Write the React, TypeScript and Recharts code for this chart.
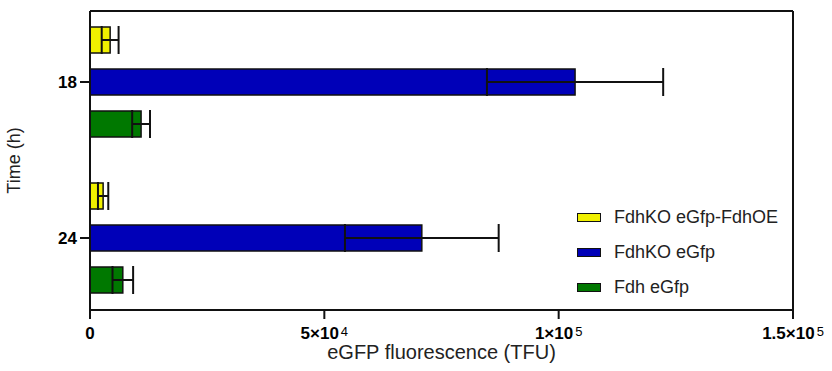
import React from "react";
import { BarChart, Bar, XAxis, YAxis, ErrorBar, Legend } from "recharts";

const times = ["18", "24"];
const seriesNames = ["FdhKO eGfp-FdhOE", "FdhKO eGfp", "Fdh eGfp"];
const seriesColors = ["#f0f000", "#0000b8", "#007800"];
const yellowValues = [4300, 2800];
const yellowErrors = [1800, 1100];
const blueValues = [103500, 70800];
const blueErrors = [18800, 16400];
const greenValues = [10900, 7000];
const greenErrors = [1900, 2200];

const xTickValues = [0, 50000, 100000, 150000];
const xTickMantissa = ["0", "5×10", "1×10", "1.5×10"];
const xTickExponent = ["", "4", "5", "5"];

const data = times.map((t, i) => ({
  time: t,
  yellow: yellowValues[i],
  yellowErr: yellowErrors[i],
  blue: blueValues[i],
  blueErr: blueErrors[i],
  green: greenValues[i],
  greenErr: greenErrors[i],
}));

const FONT = "'Liberation Sans', Arial, sans-serif";
const INK = "#111";

const XTick = (props: any) => {
  const { x, y, payload } = props;
  const idx = xTickValues.indexOf(payload.value);
  const m = idx >= 0 ? xTickMantissa[idx] : String(payload.value);
  const e = idx >= 0 ? xTickExponent[idx] : "";
  return (
    <text x={x} y={y} dy={12} textAnchor="middle" fontFamily={FONT} fontWeight="bold" fontSize={17} fill="#000">
      <tspan>{m}</tspan>
      {e ? (
        <tspan dx={2} dy={-3} fontSize={13} fontWeight="normal">
          {e}
        </tspan>
      ) : null}
    </text>
  );
};

const LegendContent = () => (
  <div style={{ fontFamily: FONT, fontSize: 18, color: "#222" }}>
    {seriesNames.map((n, i) => (
      <div key={n} style={{ display: "flex", alignItems: "center", height: 35 }}>
        <span
          style={{
            display: "inline-block",
            width: 22,
            height: 7,
            background: seriesColors[i],
            border: "1.5px solid #111",
            marginRight: 13,
          }}
        />
        <span>{n}</span>
      </div>
    ))}
  </div>
);

const keys = ["yellow", "blue", "green"];

export default function App() {
  return (
    <div style={{ position: "absolute", left: 0, top: 0, background: "#fff" }}>
      <BarChart
        width={832}
        height={371}
        data={data}
        layout="vertical"
        margin={{ top: 10, right: 38, bottom: 0, left: 0 }}
        barSize={26}
        barGap={16}
      >
        <XAxis
          type="number"
          domain={[0, 150000]}
          ticks={xTickValues}
          tick={<XTick />}
          tickSize={9}
          tickMargin={8}
          height={61}
          axisLine={{ stroke: INK, strokeWidth: 2 }}
          tickLine={{ stroke: INK, strokeWidth: 2 }}
          label={{
            value: "eGFP fluorescence (TFU)",
            position: "insideBottom",
            offset: 12,
            style: { fontFamily: FONT, fontSize: 20, fill: "#222" },
          }}
        />
        <XAxis
          xAxisId="top"
          orientation="top"
          type="number"
          domain={[0, 150000]}
          ticks={xTickValues}
          tick={false}
          tickLine={false}
          height={1}
          axisLine={{ stroke: INK, strokeWidth: 2 }}
        />
        <YAxis
          type="category"
          dataKey="time"
          width={90}
          padding={{ top: -7, bottom: -6 }}
          tickSize={10}
          tickMargin={3}
          axisLine={{ stroke: INK, strokeWidth: 2 }}
          tickLine={{ stroke: INK, strokeWidth: 2 }}
          tick={{ fontFamily: FONT, fontWeight: "bold", fontSize: 17, fill: "#000" }}
          label={{
            value: "Time (h)",
            angle: -90,
            position: "insideLeft",
            offset: 14,
            style: { fontFamily: FONT, fontSize: 18, fill: "#222", textAnchor: "middle" },
          }}
        />
        <YAxis
          yAxisId="right"
          orientation="right"
          type="category"
          dataKey="time"
          width={1}
          tick={false}
          tickLine={false}
          axisLine={{ stroke: INK, strokeWidth: 2 }}
        />
        {keys.map((k, i) => (
          <Bar
            key={k}
            dataKey={k}
            name={seriesNames[i]}
            fill={seriesColors[i]}
            stroke={INK}
            strokeWidth={1.5}
            isAnimationActive={false}
          >
            <ErrorBar dataKey={k + "Err"} direction="x" width={14} stroke={INK} strokeWidth={2} />
          </Bar>
        ))}
        <Legend
          layout="vertical"
          align="center"
          verticalAlign="middle"
          content={<LegendContent />}
          wrapperStyle={{ left: 577, top: 200, width: 240 }}
        />
      </BarChart>
    </div>
  );
}
